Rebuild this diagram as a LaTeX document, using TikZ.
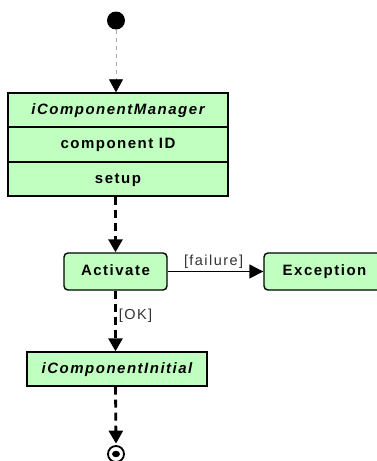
\documentclass[tikz,border=0pt]{standalone}
\usepackage{fontspec}
\setmainfont{Liberation Sans}[LetterSpace=10]
\usetikzlibrary{arrows.meta}
\definecolor{boxgreen}{HTML}{C0FFC0}
\definecolor{guardgray}{HTML}{333333}
\definecolor{flowgray}{HTML}{A8A8A8}
\newcommand\boxtext{\fontsize{15pt}{17pt}\selectfont\bfseries}
\newcommand\guardtext{\fontsize{14.5pt}{16pt}\selectfont\color{guardgray}}

\begin{document}
\begin{tikzpicture}[x=1pt,y=-1pt,
  box/.style={draw=black, line width=1.4pt, fill=boxgreen, inner sep=0pt,
    font=\boxtext, text height=11pt, text depth=3pt},
  compart/.style={box, minimum width=220pt},
  actbox/.style={box, rounded corners=4pt, minimum height=37pt},
  ctrl/.style={line width=2.8pt, dash pattern=on 8pt off 5pt,
    -{Triangle[length=13pt,width=14pt]}},
  plain/.style={line width=1.4pt, -{Triangle[length=14pt,width=14pt]}},
  flow/.style={draw=flowgray, line width=0.8pt, dash pattern=on 4pt off 4pt,
    -{Triangle[length=13pt,width=14pt,fill=black,color=black]}},
  guard/.style={font=\guardtext, inner sep=2pt}
]
\useasboundingbox (0,0) rectangle (377,461);
\clip (0,0) rectangle (377,461);

% initial state
\node[circle, fill=black, minimum size=18pt, inner sep=0pt] (start) at (116,20.5) {};

% the manager as three stacked compartments
\node[compart, minimum height=34pt] (mgr-name) at (118,110) {\itshape iComponentManager};
\node[compart, minimum height=35pt] (mgr-id) at (118,144.5) {component ID};
\node[compart, minimum height=34pt] (mgr-setup) at (118,179) {setup};

% actions
\node[actbox, minimum width=103pt] (act) at (115.5,271.5) {Activate};
\node[actbox, minimum width=121pt] (exc) at (324.5,271.5) {Exception};
\node[box, minimum width=180pt, minimum height=34pt] (init) at (117,369) {\itshape iComponentInitial};

% final state
\node[circle, draw=black, line width=1.8pt, minimum size=16pt, inner sep=0pt] (end) at (116,454) {};
\fill[black] (end.center) ellipse (4pt and 3.2pt);

% transitions
\draw[flow] (start) -- (start |- mgr-name.north);
\draw[ctrl] (act |- mgr-setup.south) -- (act.north);
\draw[plain] (act.east) -- node[guard, above, pos=0.48] {[failure]} (exc.west);
\draw[ctrl] (act.south) -- node[guard, right, pos=0.42] {[OK]} (act.south |- init.north);
\draw[ctrl, shorten >=1.5pt] (act |- init.south) -- (end.north);
\end{tikzpicture}
\end{document}
